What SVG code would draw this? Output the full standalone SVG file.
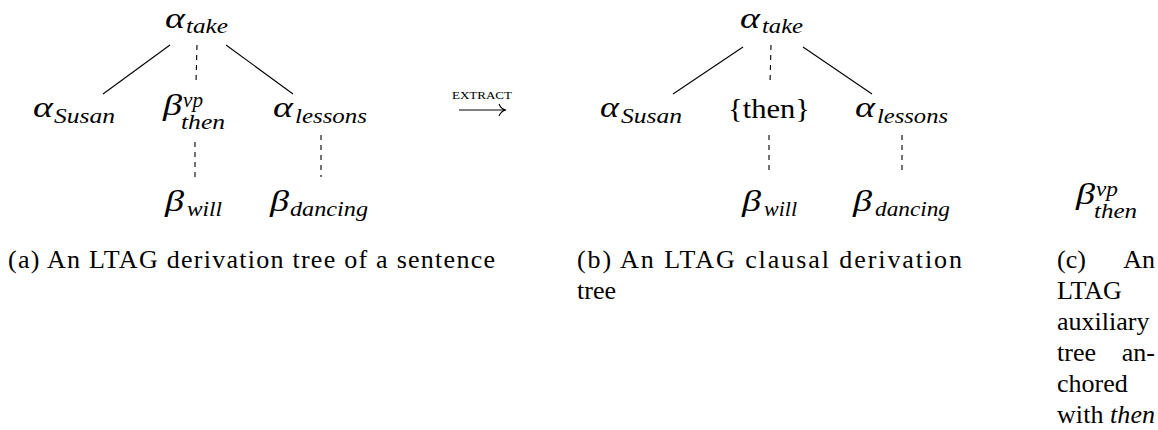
<svg xmlns="http://www.w3.org/2000/svg" width="1158" height="430" viewBox="0 0 1158 430">
<style>
text { font-family: "Liberation Serif", serif; fill: #000; }
.g { font-style: italic; font-size: 29px; }
.s { font-style: italic; font-size: 20px; }
.cap { font-size: 26px; }
.sc { font-size: 10px; }
.txt { font-size: 28px; }
.e { stroke: #000; stroke-width: 1.1; fill: none; }
.d { stroke: #000; stroke-width: 1.1; fill: none; stroke-dasharray: 5 5; }
</style>
<rect width="1158" height="430" fill="#fff"/>
<g id="connectors">
  <line class="e" x1="170" y1="45" x2="103" y2="94"/>
  <line class="d" x1="197" y1="45" x2="196" y2="83"/>
  <line class="e" x1="226" y1="45" x2="293" y2="94"/>
  <line class="d" x1="195" y1="142" x2="195" y2="180"/>
  <line class="d" x1="321" y1="135" x2="321" y2="177"/>
  <line class="e" x1="743" y1="47" x2="673" y2="94"/>
  <line class="d" x1="771" y1="45" x2="770" y2="84"/>
  <line class="e" x1="803" y1="47" x2="872" y2="94"/>
  <line class="d" x1="769" y1="135" x2="769" y2="173"/>
  <line class="d" x1="902" y1="135" x2="902" y2="175"/>
</g>
<g id="a-take"><text class="g" x="165" y="28" textLength="20" lengthAdjust="spacingAndGlyphs">α</text><text class="s" x="186" y="33" textLength="42" lengthAdjust="spacingAndGlyphs">take</text></g>
<g id="a-susan"><text class="g" x="33" y="117" textLength="20" lengthAdjust="spacingAndGlyphs">α</text><text class="s" x="54" y="123" textLength="61" lengthAdjust="spacingAndGlyphs">Susan</text></g>
<g id="a-then"><text class="g" x="163" y="115" textLength="19" lengthAdjust="spacingAndGlyphs">β</text><text class="s" x="183" y="107" textLength="20" lengthAdjust="spacingAndGlyphs">vp</text><text class="s" x="181" y="129" textLength="44" lengthAdjust="spacingAndGlyphs">then</text></g>
<g id="a-lessons"><text class="g" x="273" y="117" textLength="20" lengthAdjust="spacingAndGlyphs">α</text><text class="s" x="295" y="123" textLength="72" lengthAdjust="spacingAndGlyphs">lessons</text></g>
<g id="a-will"><text class="g" x="165" y="211" textLength="19" lengthAdjust="spacingAndGlyphs">β</text><text class="s" x="187" y="216" textLength="35" lengthAdjust="spacingAndGlyphs">will</text></g>
<g id="a-dancing"><text class="g" x="270" y="211" textLength="19" lengthAdjust="spacingAndGlyphs">β</text><text class="s" x="290" y="216" textLength="78" lengthAdjust="spacingAndGlyphs">dancing</text></g>
<g id="extract">
  <text class="sc" x="452" y="99" textLength="60" lengthAdjust="spacingAndGlyphs">EXTRACT</text>
  <path class="e" d="M459,110 H505 M499,104 Q501,109 506,110 Q501,111 499,116" stroke-width="1.3"/>
</g>
<g id="b-take"><text class="g" x="740" y="28" textLength="20" lengthAdjust="spacingAndGlyphs">α</text><text class="s" x="762" y="33" textLength="41" lengthAdjust="spacingAndGlyphs">take</text></g>
<g id="b-susan"><text class="g" x="600" y="117" textLength="19" lengthAdjust="spacingAndGlyphs">α</text><text class="s" x="621" y="123" textLength="61" lengthAdjust="spacingAndGlyphs">Susan</text></g>
<g id="b-then"><text class="txt" x="728" y="118" textLength="82" lengthAdjust="spacingAndGlyphs">{then}</text></g>
<g id="b-lessons"><text class="g" x="855" y="117" textLength="20" lengthAdjust="spacingAndGlyphs">α</text><text class="s" x="877" y="123" textLength="71" lengthAdjust="spacingAndGlyphs">lessons</text></g>
<g id="b-will"><text class="g" x="742" y="211" textLength="19" lengthAdjust="spacingAndGlyphs">β</text><text class="s" x="764" y="216" textLength="33" lengthAdjust="spacingAndGlyphs">will</text></g>
<g id="b-dancing"><text class="g" x="853" y="211" textLength="19" lengthAdjust="spacingAndGlyphs">β</text><text class="s" x="875" y="216" textLength="75" lengthAdjust="spacingAndGlyphs">dancing</text></g>
<g id="c-then"><text class="g" x="1076" y="204" textLength="19" lengthAdjust="spacingAndGlyphs">β</text><text class="s" x="1096" y="196" textLength="22" lengthAdjust="spacingAndGlyphs">vp</text><text class="s" x="1094" y="218" textLength="43" lengthAdjust="spacingAndGlyphs">then</text></g>
<g id="captions">
  <text class="cap" x="8" y="268" textLength="487" lengthAdjust="spacing">(a) An LTAG derivation tree of a sentence</text>
  <text class="cap" x="577" y="268" textLength="385" lengthAdjust="spacing">(b) An LTAG clausal derivation</text>
  <text class="cap" x="577" y="299">tree</text>
  <text class="cap" x="1057" y="268">(c)</text><text class="cap" x="1155" y="268" text-anchor="end">An</text>
  <text class="cap" x="1057" y="299">LTAG</text>
  <text class="cap" x="1057" y="330">auxiliary</text>
  <text class="cap" x="1057" y="361">tree</text><text class="cap" x="1155" y="361" text-anchor="end">an-</text>
  <text class="cap" x="1057" y="392">chored</text>
  <text class="cap" x="1057" y="423" textLength="98" lengthAdjust="spacing">with <tspan font-style="italic">then</tspan></text>
</g>
</svg>
